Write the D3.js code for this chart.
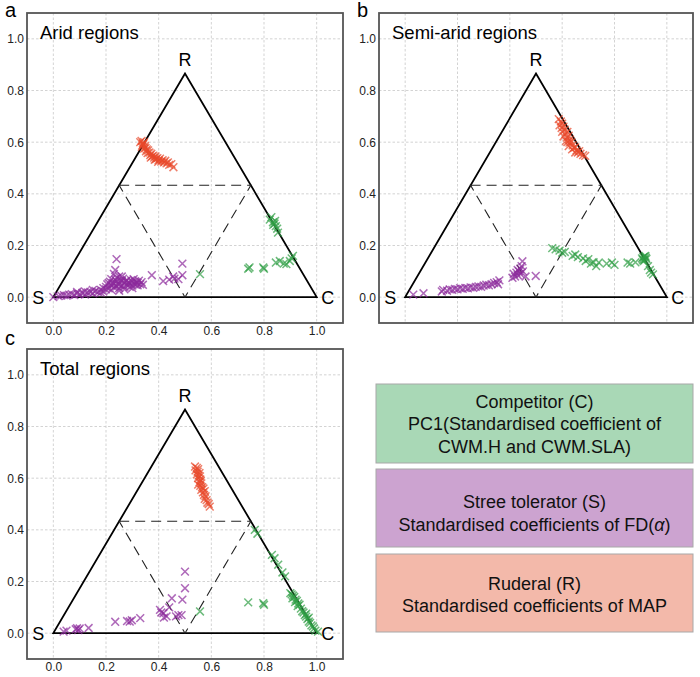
<!DOCTYPE html>
<html>
<head>
<meta charset="utf-8">
<script src="https://cdn.jsdelivr.net/npm/d3@7"></script>
<style>
  body { margin: 0; background: #fff; }
  text { font-family: "Liberation Sans", Arial, sans-serif; white-space: pre; }
</style>
</head>
<body>
<div id="vis"></div>
<script>
// tick values shared by every panel
var ticks = [0, 0.2, 0.4, 0.6, 0.8, 1.0];

// plotted positions [x, y]
var aridR = [[0.33,0.600],[0.335,0.605],[0.34,0.595],[0.338,0.588],[0.345,0.600],[0.342,0.592],[0.336,0.582],[0.348,0.585],[0.35,0.578],[0.345,0.575],[0.355,0.572],[0.352,0.565],[0.36,0.568],[0.358,0.558],[0.365,0.560],[0.368,0.550],[0.372,0.555],[0.375,0.545],[0.38,0.548],[0.383,0.540],[0.388,0.545],[0.39,0.535],[0.395,0.538],[0.40,0.530],[0.405,0.536],[0.41,0.525],[0.415,0.530],[0.42,0.522],[0.425,0.528],[0.43,0.518],[0.435,0.522],[0.44,0.512],[0.448,0.515],[0.456,0.503],[0.37,0.540],[0.385,0.532],[0.398,0.524]];
var aridS = [[0.00,0.000],[0.02,0.004],[0.03,0.006],[0.04,0.008],[0.05,0.006],[0.06,0.010],[0.07,0.012],[0.08,0.008],[0.09,0.014],[0.10,0.012],[0.11,0.016],[0.12,0.010],[0.13,0.018],[0.14,0.020],[0.15,0.015],[0.16,0.024],[0.17,0.020],[0.18,0.028],[0.19,0.022],[0.20,0.030],[0.20,0.040],[0.21,0.034],[0.22,0.045],[0.22,0.028],[0.23,0.038],[0.23,0.052],[0.24,0.042],[0.24,0.060],[0.25,0.035],[0.25,0.050],[0.26,0.045],[0.26,0.062],[0.27,0.040],[0.27,0.055],[0.28,0.048],[0.28,0.066],[0.29,0.052],[0.29,0.040],[0.30,0.058],[0.30,0.045],[0.31,0.050],[0.31,0.062],[0.32,0.046],[0.32,0.055],[0.33,0.050],[0.34,0.048],[0.22,0.07],[0.24,0.075],[0.25,0.08],[0.23,0.09],[0.235,0.105],[0.24,0.147],[0.374,0.085],[0.49,0.13],[0.49,0.085],[0.417,0.062],[0.44,0.068],[0.46,0.072],[0.475,0.07],[0.455,0.08],
    [0.19,0.035],[0.205,0.050],[0.215,0.060],[0.225,0.055],[0.235,0.068],[0.245,0.050],[0.255,0.065],[0.265,0.072],[0.275,0.062],[0.285,0.058],[0.295,0.066],[0.305,0.070],[0.315,0.058],[0.325,0.064],[0.335,0.058],[0.26,0.080],[0.21,0.055],[0.27,0.030],[0.30,0.035],[0.18,0.018],[0.15,0.028],[0.12,0.022],[0.09,0.020],[0.25,0.025]];
var aridC = [[0.557,0.089],[0.74,0.11],[0.745,0.115],[0.797,0.115],[0.80,0.11],[0.845,0.134],[0.86,0.14],[0.875,0.13],[0.885,0.128],[0.898,0.14],[0.91,0.16],[0.905,0.15],[0.822,0.30],[0.828,0.31],[0.834,0.29],[0.84,0.285],[0.845,0.275],[0.835,0.28],[0.85,0.265],[0.853,0.25],[0.842,0.295]];

var semiR = [[0.587,0.689],[0.595,0.68],[0.59,0.665],[0.60,0.672],[0.598,0.655],[0.605,0.66],[0.60,0.64],[0.61,0.648],[0.612,0.632],[0.62,0.64],[0.605,0.622],[0.618,0.618],[0.625,0.625],[0.63,0.61],[0.615,0.605],[0.628,0.598],[0.635,0.60],[0.64,0.588],[0.625,0.585],[0.645,0.578],[0.65,0.58],[0.638,0.572],[0.655,0.568],[0.66,0.56],[0.665,0.565],[0.67,0.555],[0.68,0.55],[0.688,0.547],[0.65,0.56],[0.62,0.60]];
var semiS = [[0.031,0.01],[0.07,0.015],[0.14,0.022],[0.145,0.028],[0.16,0.025],[0.17,0.03],[0.18,0.028],[0.19,0.032],[0.20,0.03],[0.21,0.035],[0.22,0.032],[0.23,0.036],[0.24,0.034],[0.25,0.038],[0.26,0.036],[0.27,0.040],[0.28,0.042],[0.29,0.040],[0.30,0.045],[0.31,0.048],[0.32,0.046],[0.33,0.05],[0.34,0.055],[0.35,0.058],[0.36,0.065],[0.355,0.05],[0.41,0.075],[0.415,0.09],[0.42,0.08],[0.425,0.095],[0.43,0.085],[0.435,0.1],[0.44,0.09],[0.44,0.11],[0.445,0.12],[0.448,0.139],[0.45,0.1],[0.43,0.105],[0.46,0.08],[0.499,0.082]];
var semiC = [[0.562,0.19],[0.575,0.185],[0.59,0.18],[0.6,0.172],[0.61,0.175],[0.64,0.16],[0.65,0.165],[0.66,0.155],[0.68,0.15],[0.69,0.14],[0.70,0.147],[0.71,0.13],[0.72,0.135],[0.73,0.12],[0.74,0.134],[0.77,0.13],[0.79,0.134],[0.80,0.125],[0.85,0.134],[0.86,0.13],[0.88,0.135],[0.905,0.15],[0.91,0.155],[0.915,0.145],[0.92,0.153],[0.918,0.16],[0.912,0.14],[0.928,0.12],[0.935,0.105],[0.947,0.088],[0.94,0.095],[0.915,0.158],[0.922,0.148],[0.908,0.145]];

var totalR = [[0.538,0.645],[0.545,0.64],[0.55,0.635],[0.54,0.63],[0.548,0.625],[0.555,0.62],[0.545,0.615],[0.552,0.61],[0.557,0.607],[0.55,0.60],[0.558,0.595],[0.555,0.585],[0.562,0.58],[0.558,0.57],[0.565,0.565],[0.57,0.56],[0.562,0.555],[0.575,0.55],[0.568,0.545],[0.572,0.535],[0.578,0.53],[0.575,0.52],[0.582,0.515],[0.585,0.505],[0.59,0.50],[0.594,0.49],[0.55,0.575],[0.56,0.59]];
var totalS = [[0.039,0.006],[0.05,0.01],[0.085,0.015],[0.09,0.019],[0.095,0.012],[0.10,0.018],[0.134,0.02],[0.235,0.044],[0.28,0.047],[0.29,0.045],[0.298,0.05],[0.33,0.058],[0.405,0.09],[0.41,0.08],[0.418,0.077],[0.43,0.065],[0.44,0.1],[0.45,0.135],[0.466,0.065],[0.475,0.07],[0.487,0.07],[0.49,0.13],[0.50,0.174],[0.50,0.238],[0.42,0.06]];
var totalC = [[0.557,0.084],[0.74,0.119],[0.797,0.116],[0.80,0.11],[0.765,0.40],[0.775,0.385],[0.83,0.303],[0.84,0.29],[0.854,0.265],[0.88,0.22],[0.87,0.235],[0.90,0.155],[0.905,0.15],[0.91,0.145],[0.915,0.14],[0.908,0.135],[0.92,0.13],[0.925,0.125],[0.918,0.12],[0.93,0.115],[0.935,0.11],[0.928,0.105],[0.94,0.095],[0.945,0.085],[0.95,0.08],[0.955,0.07],[0.96,0.064],[0.965,0.055],[0.97,0.045],[0.975,0.04],[0.98,0.03],[0.986,0.026],[0.99,0.018],[0.995,0.01],[1.005,0.006],[0.96,0.075],[0.97,0.06]];

// triangle corners S, C, R and the dashed inner triangle
var vertices = [[0, 0], [1, 0], [0.5, 0.866]];
var vertexNames = ["S", "C", "R"];
var inner = [[0.25, 0.433], [0.75, 0.433], [0.5, 0]];

var panelTitles = ["Arid regions", "Semi-arid regions", "Total  regions"];
var panelLetters = ["a", "b", "c"];

var legendLines = [
    ["Competitor (C)", "PC1(Standardised coefficient of", "CWM.H and CWM.SLA)"],
    ["Stree tolerator (S)", "Standardised coefficients of FD("],
    ["Ruderal (R)", "Standardised coefficients of MAP"]
];

var colR = "#e8482b", colS = "#8b2a9b", colC = "#2f9e44";

var svg = d3.select("#vis").append("svg")
    .attr("width", 700)
    .attr("height", 677);

var panels = [
    {left: 27, top: 13, w: 316, h: 310, R: aridR, S: aridS, C: aridC, xlab: true, ly: 17},
    {left: 379, top: 13, w: 314, h: 310, R: semiR, S: semiS, C: semiC, xlab: false, ly: 17},
    {left: 27, top: 349, w: 316, h: 310, R: totalR, S: totalS, C: totalC, xlab: true, ly: 345}
];

function drawPanel(p, i) {
    var x = d3.scaleLinear().domain([-0.1, 1.1]).range([p.left, p.left + p.w]);
    var y = d3.scaleLinear().domain([-0.1, 1.1]).range([p.top + p.h, p.top]);
    var g = svg.append("g");

    // grid
    g.selectAll(".vg").data(ticks).enter().append("line")
        .attr("x1", function(d) { return x(d); })
        .attr("x2", function(d) { return x(d); })
        .attr("y1", p.top).attr("y2", p.top + p.h)
        .attr("stroke", "#c8c8c8").attr("stroke-width", 0.8)
        .attr("stroke-dasharray", "2.5,2");
    g.selectAll(".hg").data(ticks).enter().append("line")
        .attr("y1", function(d) { return y(d); })
        .attr("y2", function(d) { return y(d); })
        .attr("x1", p.left).attr("x2", p.left + p.w)
        .attr("stroke", "#c8c8c8").attr("stroke-width", 0.8)
        .attr("stroke-dasharray", "2.5,2");

    // axes
    var ya = g.append("g")
        .attr("transform", "translate(" + p.left + ",0)")
        .call(d3.axisLeft(y).tickValues(ticks).tickSize(0).tickPadding(3).tickFormat(d3.format(".1f")));
    ya.select(".domain").remove();
    ya.selectAll("text").attr("font-size", 12).attr("fill", "#222")
        .style("font-family", "'Liberation Sans', Arial, sans-serif");

    if (p.xlab) {
        var xa = g.append("g")
            .attr("transform", "translate(0," + (p.top + p.h) + ")")
            .call(d3.axisBottom(x).tickValues(ticks).tickSize(0).tickPadding(3).tickFormat(d3.format(".1f")));
        xa.select(".domain").remove();
        xa.selectAll("text").attr("font-size", 12).attr("fill", "#222")
            .style("font-family", "'Liberation Sans', Arial, sans-serif");
    }

    // frame
    g.append("rect")
        .attr("x", p.left).attr("y", p.top)
        .attr("width", p.w).attr("height", p.h)
        .attr("fill", "none").attr("stroke", "#555").attr("stroke-width", 1.8);

    var line = d3.line().x(function(d) { return x(d[0]); }).y(function(d) { return y(d[1]); });

    g.append("path")
        .attr("d", line(vertices) + "Z")
        .attr("fill", "none").attr("stroke", "#000").attr("stroke-width", 1.8);

    g.append("path")
        .attr("d", line(inner) + "Z")
        .attr("fill", "none").attr("stroke", "#222").attr("stroke-width", 1.1)
        .attr("stroke-dasharray", "10,6");

    // vertex labels
    var offs = [[-15, 7], [11, 7], [0, -7]];
    g.selectAll(".vl").data(vertices).enter().append("text")
        .attr("x", function(d, k) { return x(d[0]) + offs[k][0]; })
        .attr("y", function(d, k) { return y(d[1]) + offs[k][1]; })
        .attr("text-anchor", "middle")
        .attr("font-size", 18)
        .text(function(d, k) { return vertexNames[k]; });

    // markers
    var series = [[p.S, colS], [p.C, colC], [p.R, colR]];
    var r = 3.9;
    series.forEach(function(s) {
        g.selectAll(null).data(s[0]).enter().append("path")
            .attr("d", function(d) {
                var cx = x(d[0]), cy = y(d[1]);
                return "M" + (cx - r) + "," + (cy - r) + "L" + (cx + r) + "," + (cy + r) +
                       "M" + (cx - r) + "," + (cy + r) + "L" + (cx + r) + "," + (cy - r);
            })
            .attr("stroke", s[1]).attr("stroke-width", 1.5)
            .attr("stroke-opacity", 0.7).attr("fill", "none");
    });

    // title + letter
    g.append("text")
        .attr("x", p.left + 13).attr("y", p.top + 26)
        .attr("font-size", 18.5)
        .text(panelTitles[i]);
    g.append("text")
        .attr("x", p.left - 22).attr("y", p.ly)
        .attr("font-size", 20)
        .text(panelLetters[i]);
}

panels.forEach(drawPanel);

// legend boxes
var boxes = [
    {y: 384, h: 79, fill: "#a9d8b6", lines: legendLines[0], ly: [408, 430, 453]},
    {y: 469, h: 78, fill: "#cca3d0", lines: legendLines[1], ly: [508, 531]},
    {y: 554, h: 78, fill: "#f3b9aa", lines: legendLines[2], ly: [590, 612]}
];
var bx = 376, bw = 317;
boxes.forEach(function(b, k) {
    svg.append("rect")
        .attr("x", bx).attr("y", b.y).attr("width", bw).attr("height", b.h)
        .attr("fill", b.fill).attr("stroke", "#a8a8a8").attr("stroke-width", 1);
    b.lines.forEach(function(t, j) {
        var tx = svg.append("text")
            .attr("x", bx + bw / 2).attr("y", b.ly[j])
            .attr("text-anchor", "middle")
            .attr("font-size", 18).attr("fill", "#111");
        tx.append("tspan").text(t);
        if (k === 1 && j === 1) {
            tx.append("tspan").attr("font-style", "italic").text("\u03b1");
            tx.append("tspan").text(")");
        }
    });
});
</script>
</body>
</html>
